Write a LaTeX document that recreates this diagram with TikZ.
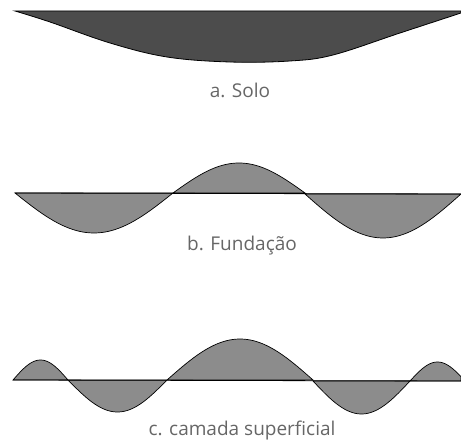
\documentclass[tikz,border=0pt]{standalone}
\usepackage{fontspec}
\setmainfont{Open Sans}
\begin{document}
\begin{tikzpicture}[x=1pt,y=-1pt,
  soil/.style={fill=black!70,draw=black,line width=0.8pt},
  wave/.style={fill=black!45,draw=black,line width=0.7pt},
  base/.style={draw=black,line width=0.8pt},
  captext/.style={text=black!60,font=\fontsize{19}{22}\selectfont,inner sep=0pt}]
\useasboundingbox (0,0) rectangle (461,443);
% a. Solo
\path[soil] plot[smooth,tension=0.6] coordinates {(15,11) (50,22) (110,43) (167,57) (230,62) (290,61) (333,55) (400,33) (461,13)} -- (461,11) -- cycle;
\node[captext] (a) at (240,90) {a. Solo};
% b. Fundacao
\path[wave] plot[domain=15:173,samples=50] (\x,{193+40*sin((\x-15)/158*180)}) -- cycle;
\path[wave] plot[domain=173:305,samples=50] (\x,{193-30*sin((\x-173)/132*180)}) -- cycle;
\path[wave] plot[domain=305:461,samples=50] (\x,{194+44*sin((\x-305)/156*180)}) -- cycle;
\coordinate (b1) at (15,193);
\coordinate (b2) at (461,194);
\draw[base] (b1) -- (b2);
\node[captext] (b) at (242,246) {b. Fundação};
% c. camada superficial
\path[wave] plot[domain=13:68,samples=40] (\x,{380-20*sin((\x-13)/55*180)}) -- cycle;
\path[wave] plot[domain=68:167,samples=50] (\x,{380+32*sin((\x-68)/99*180)}) -- cycle;
\path[wave] plot[domain=167:313,samples=50] (\x,{380-41*sin((\x-167)/146*180)}) -- cycle;
\path[wave] plot[domain=313:410,samples=50] (\x,{381+33*sin((\x-313)/97*180)}) -- cycle;
\path[wave] plot[domain=410:461,samples=40] (\x,{381-19*sin((\x-410)/55*180)}) -- (461,381) -- cycle;
\coordinate (c1) at (13,380);
\coordinate (c2) at (461,381);
\draw[base] (c1) -- (c2);
\node[captext] (c) at (242,431) {c. camada superficial};
\end{tikzpicture}
\end{document}
